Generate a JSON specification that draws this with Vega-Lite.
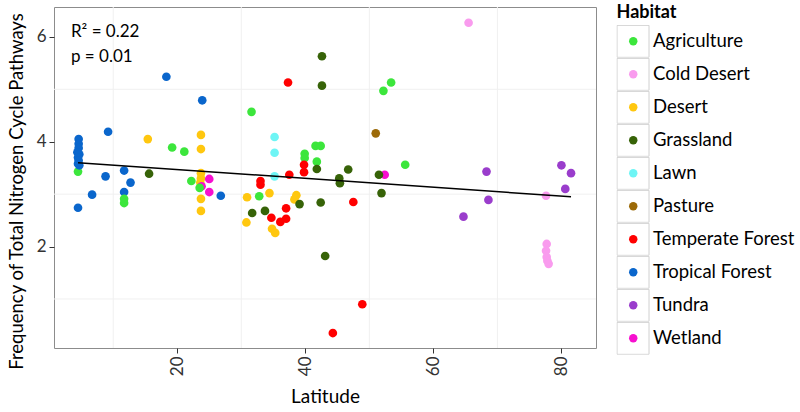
{
  "$schema": "https://vega.github.io/schema/vega-lite/v6.json",
  "width": 542,
  "height": 341,
  "autosize": {"type": "none"},
  "padding": {"left": 54, "top": 7, "right": 204, "bottom": 64},
  "background": "white",
  "config": {
    "font": "Lato",
    "view": {"stroke": "#8C8C8C", "strokeWidth": 1},
    "axis": {
      "grid": false,
      "domain": false,
      "ticks": true,
      "tickColor": "#333333",
      "tickSize": 5,
      "tickWidth": 1,
      "labelFont": "Lato",
      "labelFontSize": 17,
      "labelColor": "#333333",
      "labelPadding": 3,
      "titleFont": "Lato",
      "titleFontSize": 19,
      "titleFontWeight": "normal",
      "titleColor": "#000000"
    }
  },
  "datasets": {
    "points": [
      {"Habitat": "Tropical Forest", "Latitude": 4.6, "Frequency": 4.05},
      {"Habitat": "Tropical Forest", "Latitude": 4.6, "Frequency": 3.96},
      {"Habitat": "Tropical Forest", "Latitude": 4.6, "Frequency": 3.88},
      {"Habitat": "Tropical Forest", "Latitude": 4.4, "Frequency": 3.8},
      {"Habitat": "Tropical Forest", "Latitude": 4.7, "Frequency": 3.76},
      {"Habitat": "Tropical Forest", "Latitude": 4.5, "Frequency": 3.7},
      {"Habitat": "Tropical Forest", "Latitude": 4.6, "Frequency": 3.64},
      {"Habitat": "Agriculture", "Latitude": 4.5, "Frequency": 3.43},
      {"Habitat": "Tropical Forest", "Latitude": 4.5, "Frequency": 3.58},
      {"Habitat": "Tropical Forest", "Latitude": 4.7, "Frequency": 3.55},
      {"Habitat": "Tropical Forest", "Latitude": 4.5, "Frequency": 2.74},
      {"Habitat": "Tropical Forest", "Latitude": 6.7, "Frequency": 2.99},
      {"Habitat": "Tropical Forest", "Latitude": 8.8, "Frequency": 3.34},
      {"Habitat": "Tropical Forest", "Latitude": 9.2, "Frequency": 4.19},
      {"Habitat": "Tropical Forest", "Latitude": 11.7, "Frequency": 3.45},
      {"Habitat": "Tropical Forest", "Latitude": 12.7, "Frequency": 3.22},
      {"Habitat": "Tropical Forest", "Latitude": 11.7, "Frequency": 3.04},
      {"Habitat": "Tropical Forest", "Latitude": 18.3, "Frequency": 5.24},
      {"Habitat": "Tropical Forest", "Latitude": 23.9, "Frequency": 4.79},
      {"Habitat": "Tropical Forest", "Latitude": 26.8, "Frequency": 2.97},
      {"Habitat": "Agriculture", "Latitude": 11.7, "Frequency": 2.91},
      {"Habitat": "Agriculture", "Latitude": 11.7, "Frequency": 2.83},
      {"Habitat": "Agriculture", "Latitude": 19.2, "Frequency": 3.89},
      {"Habitat": "Agriculture", "Latitude": 21.1, "Frequency": 3.81},
      {"Habitat": "Agriculture", "Latitude": 22.2, "Frequency": 3.25},
      {"Habitat": "Agriculture", "Latitude": 31.6, "Frequency": 4.57},
      {"Habitat": "Agriculture", "Latitude": 32.8, "Frequency": 2.96},
      {"Habitat": "Agriculture", "Latitude": 39.9, "Frequency": 3.77},
      {"Habitat": "Agriculture", "Latitude": 39.9, "Frequency": 3.69},
      {"Habitat": "Agriculture", "Latitude": 41.8, "Frequency": 3.62},
      {"Habitat": "Agriculture", "Latitude": 41.6, "Frequency": 3.92},
      {"Habitat": "Agriculture", "Latitude": 42.4, "Frequency": 3.92},
      {"Habitat": "Agriculture", "Latitude": 52.2, "Frequency": 4.97},
      {"Habitat": "Agriculture", "Latitude": 53.4, "Frequency": 5.13},
      {"Habitat": "Agriculture", "Latitude": 55.6, "Frequency": 3.56},
      {"Habitat": "Cold Desert", "Latitude": 65.5, "Frequency": 6.27},
      {"Habitat": "Cold Desert", "Latitude": 77.6, "Frequency": 2.97},
      {"Habitat": "Cold Desert", "Latitude": 77.7, "Frequency": 2.05},
      {"Habitat": "Cold Desert", "Latitude": 77.6, "Frequency": 1.92},
      {"Habitat": "Cold Desert", "Latitude": 77.7, "Frequency": 1.8},
      {"Habitat": "Cold Desert", "Latitude": 77.8, "Frequency": 1.73},
      {"Habitat": "Cold Desert", "Latitude": 78.0, "Frequency": 1.67},
      {"Habitat": "Desert", "Latitude": 15.4, "Frequency": 4.05},
      {"Habitat": "Desert", "Latitude": 23.7, "Frequency": 4.13},
      {"Habitat": "Desert", "Latitude": 23.7, "Frequency": 3.86},
      {"Habitat": "Desert", "Latitude": 23.7, "Frequency": 3.4},
      {"Habitat": "Desert", "Latitude": 23.7, "Frequency": 3.3},
      {"Habitat": "Desert", "Latitude": 23.6, "Frequency": 3.22},
      {"Habitat": "Desert", "Latitude": 23.7, "Frequency": 2.91},
      {"Habitat": "Desert", "Latitude": 23.7, "Frequency": 2.68},
      {"Habitat": "Desert", "Latitude": 30.9, "Frequency": 2.94},
      {"Habitat": "Desert", "Latitude": 30.8, "Frequency": 2.46},
      {"Habitat": "Desert", "Latitude": 34.4, "Frequency": 3.02},
      {"Habitat": "Desert", "Latitude": 34.8, "Frequency": 2.34},
      {"Habitat": "Desert", "Latitude": 35.3, "Frequency": 2.26},
      {"Habitat": "Desert", "Latitude": 38.3, "Frequency": 2.9},
      {"Habitat": "Desert", "Latitude": 38.6, "Frequency": 2.98},
      {"Habitat": "Wetland", "Latitude": 23.8, "Frequency": 3.15},
      {"Habitat": "Wetland", "Latitude": 25.0, "Frequency": 3.29},
      {"Habitat": "Wetland", "Latitude": 25.0, "Frequency": 3.04},
      {"Habitat": "Wetland", "Latitude": 52.4, "Frequency": 3.37},
      {"Habitat": "Agriculture", "Latitude": 23.5, "Frequency": 3.12},
      {"Habitat": "Grassland", "Latitude": 15.6, "Frequency": 3.39},
      {"Habitat": "Grassland", "Latitude": 31.7, "Frequency": 2.64},
      {"Habitat": "Grassland", "Latitude": 33.7, "Frequency": 2.68},
      {"Habitat": "Grassland", "Latitude": 39.1, "Frequency": 2.81},
      {"Habitat": "Grassland", "Latitude": 41.8, "Frequency": 3.48},
      {"Habitat": "Grassland", "Latitude": 42.4, "Frequency": 2.84},
      {"Habitat": "Grassland", "Latitude": 42.6, "Frequency": 5.63},
      {"Habitat": "Grassland", "Latitude": 42.6, "Frequency": 5.07},
      {"Habitat": "Grassland", "Latitude": 43.1, "Frequency": 1.82},
      {"Habitat": "Grassland", "Latitude": 45.3, "Frequency": 3.3},
      {"Habitat": "Grassland", "Latitude": 45.4, "Frequency": 3.21},
      {"Habitat": "Grassland", "Latitude": 46.7, "Frequency": 3.47},
      {"Habitat": "Grassland", "Latitude": 51.5, "Frequency": 3.37},
      {"Habitat": "Grassland", "Latitude": 51.9, "Frequency": 3.02},
      {"Habitat": "Lawn", "Latitude": 35.2, "Frequency": 4.09},
      {"Habitat": "Lawn", "Latitude": 35.2, "Frequency": 3.79},
      {"Habitat": "Lawn", "Latitude": 35.2, "Frequency": 3.34},
      {"Habitat": "Pasture", "Latitude": 51.0, "Frequency": 4.16},
      {"Habitat": "Temperate Forest", "Latitude": 33.0, "Frequency": 3.25},
      {"Habitat": "Temperate Forest", "Latitude": 33.0, "Frequency": 3.18},
      {"Habitat": "Temperate Forest", "Latitude": 34.7, "Frequency": 2.55},
      {"Habitat": "Temperate Forest", "Latitude": 36.1, "Frequency": 2.47},
      {"Habitat": "Temperate Forest", "Latitude": 37.0, "Frequency": 2.53},
      {"Habitat": "Temperate Forest", "Latitude": 37.0, "Frequency": 2.73},
      {"Habitat": "Temperate Forest", "Latitude": 37.3, "Frequency": 5.13},
      {"Habitat": "Temperate Forest", "Latitude": 37.5, "Frequency": 3.37},
      {"Habitat": "Temperate Forest", "Latitude": 39.8, "Frequency": 3.56},
      {"Habitat": "Temperate Forest", "Latitude": 39.8, "Frequency": 3.42},
      {"Habitat": "Temperate Forest", "Latitude": 44.3, "Frequency": 0.35},
      {"Habitat": "Temperate Forest", "Latitude": 47.5, "Frequency": 2.85},
      {"Habitat": "Temperate Forest", "Latitude": 48.9, "Frequency": 0.9},
      {"Habitat": "Tundra", "Latitude": 64.7, "Frequency": 2.57},
      {"Habitat": "Tundra", "Latitude": 68.3, "Frequency": 3.43},
      {"Habitat": "Tundra", "Latitude": 68.6, "Frequency": 2.89},
      {"Habitat": "Tundra", "Latitude": 80.0, "Frequency": 3.55},
      {"Habitat": "Tundra", "Latitude": 81.5, "Frequency": 3.4},
      {"Habitat": "Tundra", "Latitude": 80.6, "Frequency": 3.1}
    ],
    "fit": [
      {"Latitude": 4.5, "Frequency": 3.6},
      {"Latitude": 81.5, "Frequency": 2.95}
    ],
    "gridx": [
      {"Latitude": 10}, {"Latitude": 30}, {"Latitude": 50}, {"Latitude": 70}
    ],
    "gridy": [
      {"Frequency": 1}, {"Frequency": 3}, {"Frequency": 5}
    ],
    "notes": [
      {"Latitude": 3.4, "Frequency": 6.0, "label": "R² = 0.22"},
      {"Latitude": 3.4, "Frequency": 5.53, "label": "p = 0.01"}
    ],
    "keys": [
      {"Key": "Agriculture"}, {"Key": "Cold Desert"}, {"Key": "Desert"}, {"Key": "Grassland"}, {"Key": "Lawn"},
      {"Key": "Pasture"}, {"Key": "Temperate Forest"}, {"Key": "Tropical Forest"}, {"Key": "Tundra"}, {"Key": "Wetland"}
    ]
  },
  "layer": [
    {
      "data": {"name": "gridx"},
      "mark": {"type": "rule", "color": "#F0F0F0", "strokeWidth": 1},
      "encoding": {
        "x": {"field": "Latitude", "type": "quantitative", "title": "Latitude",
              "scale": {"domain": [0.75, 85.4], "nice": false, "zero": false}}
      }
    },
    {
      "data": {"name": "gridy"},
      "mark": {"type": "rule", "color": "#F0F0F0", "strokeWidth": 1},
      "encoding": {
        "y": {"field": "Frequency", "type": "quantitative", "title": "Frequency of Total Nitrogen Cycle Pathways",
              "scale": {"domain": [0.065, 6.57], "nice": false, "zero": false}}
      }
    },
    {
      "data": {"name": "keys"},
      "mark": {"type": "point", "filled": false, "color": "#D0D0D0", "strokeWidth": 1, "opacity": 0},
      "encoding": {
        "shape": {
          "field": "Key", "type": "nominal",
          "scale": {
            "range": ["square", "square", "square", "square", "square", "square", "square", "square", "square", "square"]
          },
          "legend": {
            "orient": "none", "legendX": 562.5, "legendY": -3,
            "title": "Habitat", "titleFont": "Lato", "titleFontSize": 18, "titleFontWeight": "bold", "titleColor": "#000000",
            "titlePadding": 3, "titleAnchor": "start", "titleOpacity": 0,
            "symbolSize": 1024, "symbolStrokeColor": "#D0D0D0",
            "symbolStrokeWidth": 1, "symbolOpacity": 1, "clipHeight": 32.65,
            "labelExpr": "''", "labelOpacity": 0, "labelFontSize": 10, "rowPadding": 0, "padding": 0
          }
        }
      }
    },
    {
      "data": {"name": "points"},
      "mark": {"type": "circle", "size": 75, "opacity": 1},
      "encoding": {
        "x": {"field": "Latitude", "type": "quantitative", "title": "Latitude",
              "scale": {"domain": [0.75, 85.4], "nice": false, "zero": false},
              "axis": {"values": [20, 40, 60, 80], "labelAngle": -90, "titlePadding": 12}},
        "y": {"field": "Frequency", "type": "quantitative", "title": "Frequency of Total Nitrogen Cycle Pathways",
              "scale": {"domain": [0.065, 6.57], "nice": false, "zero": false},
              "axis": {"values": [2, 4, 6], "titlePadding": 10, "titleFontSize": 18.5, "titleY": 184}},
        "color": {
          "field": "Habitat", "type": "nominal",
          "scale": {
            "domain": ["Agriculture", "Cold Desert", "Desert", "Grassland", "Lawn", "Pasture", "Temperate Forest", "Tropical Forest", "Tundra", "Wetland"],
            "range": ["#3CE63C", "#F99BEE", "#FFC70F", "#376308", "#6EF5F5", "#9C6A08", "#FF0000", "#0A66CC", "#9A3DCC", "#F70FCF"]
          },
          "legend": {
            "orient": "none", "legendX": 562.5, "legendY": -3,
            "title": "Habitat", "titleFont": "Lato", "titleFontSize": 18, "titleFontWeight": "bold", "titleColor": "#000000",
            "titlePadding": 3, "titleAnchor": "start",
            "symbolType": "circle", "symbolSize": 71, "symbolStrokeWidth": 0, "symbolOffset": 7.5,
            "clipHeight": 32.65,
            "labelFont": "Lato", "labelFontSize": 18.5, "labelColor": "#000000", "labelOffset": 10.5,
            "rowPadding": 0, "padding": 0
          }
        }
      }
    },
    {
      "data": {"name": "fit"},
      "mark": {"type": "line", "color": "#000000", "strokeWidth": 1.5},
      "encoding": {
        "x": {"field": "Latitude", "type": "quantitative", "title": "Latitude",
              "scale": {"domain": [0.75, 85.4], "nice": false, "zero": false}},
        "y": {"field": "Frequency", "type": "quantitative", "title": "Frequency of Total Nitrogen Cycle Pathways",
              "scale": {"domain": [0.065, 6.57], "nice": false, "zero": false}}
      }
    },
    {
      "data": {"name": "notes"},
      "mark": {"type": "text", "align": "left", "baseline": "alphabetic", "font": "Lato", "fontSize": 17, "color": "#000000"},
      "encoding": {
        "x": {"field": "Latitude", "type": "quantitative", "title": "Latitude",
              "scale": {"domain": [0.75, 85.4], "nice": false, "zero": false}},
        "y": {"field": "Frequency", "type": "quantitative", "title": "Frequency of Total Nitrogen Cycle Pathways",
              "scale": {"domain": [0.065, 6.57], "nice": false, "zero": false}},
        "text": {"field": "label", "type": "nominal"}
      }
    }
  ]
}
